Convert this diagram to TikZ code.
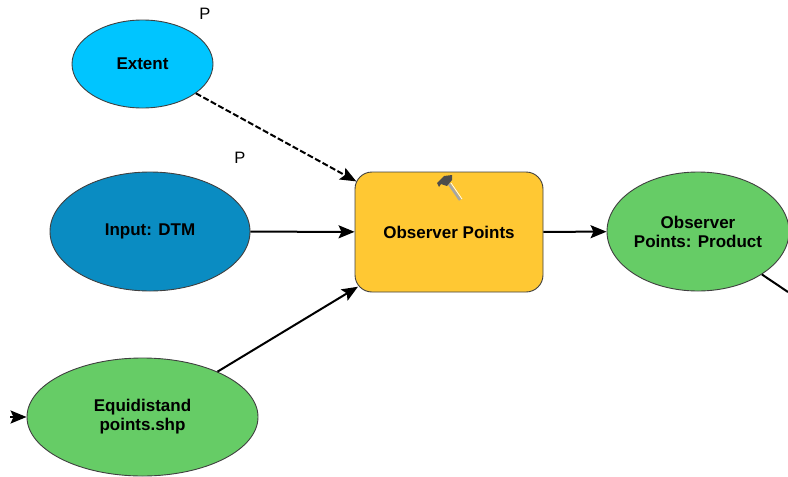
\documentclass[tikz,border=0pt]{standalone}
\usepackage{fontspec}
\setmainfont{Liberation Sans}
\usetikzlibrary{shapes.geometric,arrows.meta}
\definecolor{extentblue}{HTML}{00C5FF}
\definecolor{inputblue}{HTML}{0A8CC2}
\definecolor{datagreen}{HTML}{66CC66}
\definecolor{toolyellow}{HTML}{FFC833}
\tikzset{
  data/.style={ellipse,draw=black!75,line width=0.9pt,inner sep=0pt,align=center,
    font=\fontsize{17}{19}\selectfont\bfseries},
  tool/.style={rectangle,rounded corners=17pt,draw=black!75,line width=0.9pt,fill=toolyellow,
    inner sep=0pt,align=center,font=\fontsize{17}{19}\selectfont\bfseries},
  flow/.style={line width=2pt,-{Stealth[length=16pt,width=13pt,inset=3pt]}},
  param/.style={font=\fontsize{16.5}{18}\selectfont}
}
\begin{document}
\begin{tikzpicture}[x=1pt,y=-1pt]
\useasboundingbox (0,0) rectangle (788,477);
\node [data,fill=extentblue,minimum width=141pt,minimum height=88pt] (extent) at (142.5,64) {Extent};
\node [data,fill=inputblue,minimum width=200pt,minimum height=119pt] (dtm) at (150,231.5) {Input: DTM};
\node [data,fill=datagreen,minimum width=231pt,minimum height=118pt] (points) at (142.5,417) {Equidistand\\points.shp};
\node [tool,minimum width=188pt,minimum height=120pt] (observer) at (449,232) {Observer Points};
\node [data,fill=datagreen,minimum width=182pt,minimum height=119pt] (product) at (698,231.5) {Observer\\Points: Product};
\node [param] (pextent) at (205,14) {P};
\node [param] (pdtm) at (240,158) {P};
\coordinate (feed) at (10,417);
\coordinate (out) at (788,292);
\draw [flow,dash pattern=on 6pt off 2.5pt,shorten >=-2pt] (extent) -- (observer);
\draw [flow] (dtm) -- (observer);
\draw [flow,shorten >=-4pt] (points) -- (observer);
\draw [flow] (observer) -- (product);
\draw [flow] (feed) -- (points);
\draw [line width=2pt] (product) -- (out);
% hammer
\draw [line width=2.6pt,black!35] (449,184) -- (460,200);
\draw [line width=0.7pt,white] (451,183) -- (462,199);
\fill [black!70] (437,183) -- (444,176) -- (452,175) -- (452,180) -- (447,186) -- (441,184) -- (439,187) -- cycle;
\end{tikzpicture}
\end{document}
